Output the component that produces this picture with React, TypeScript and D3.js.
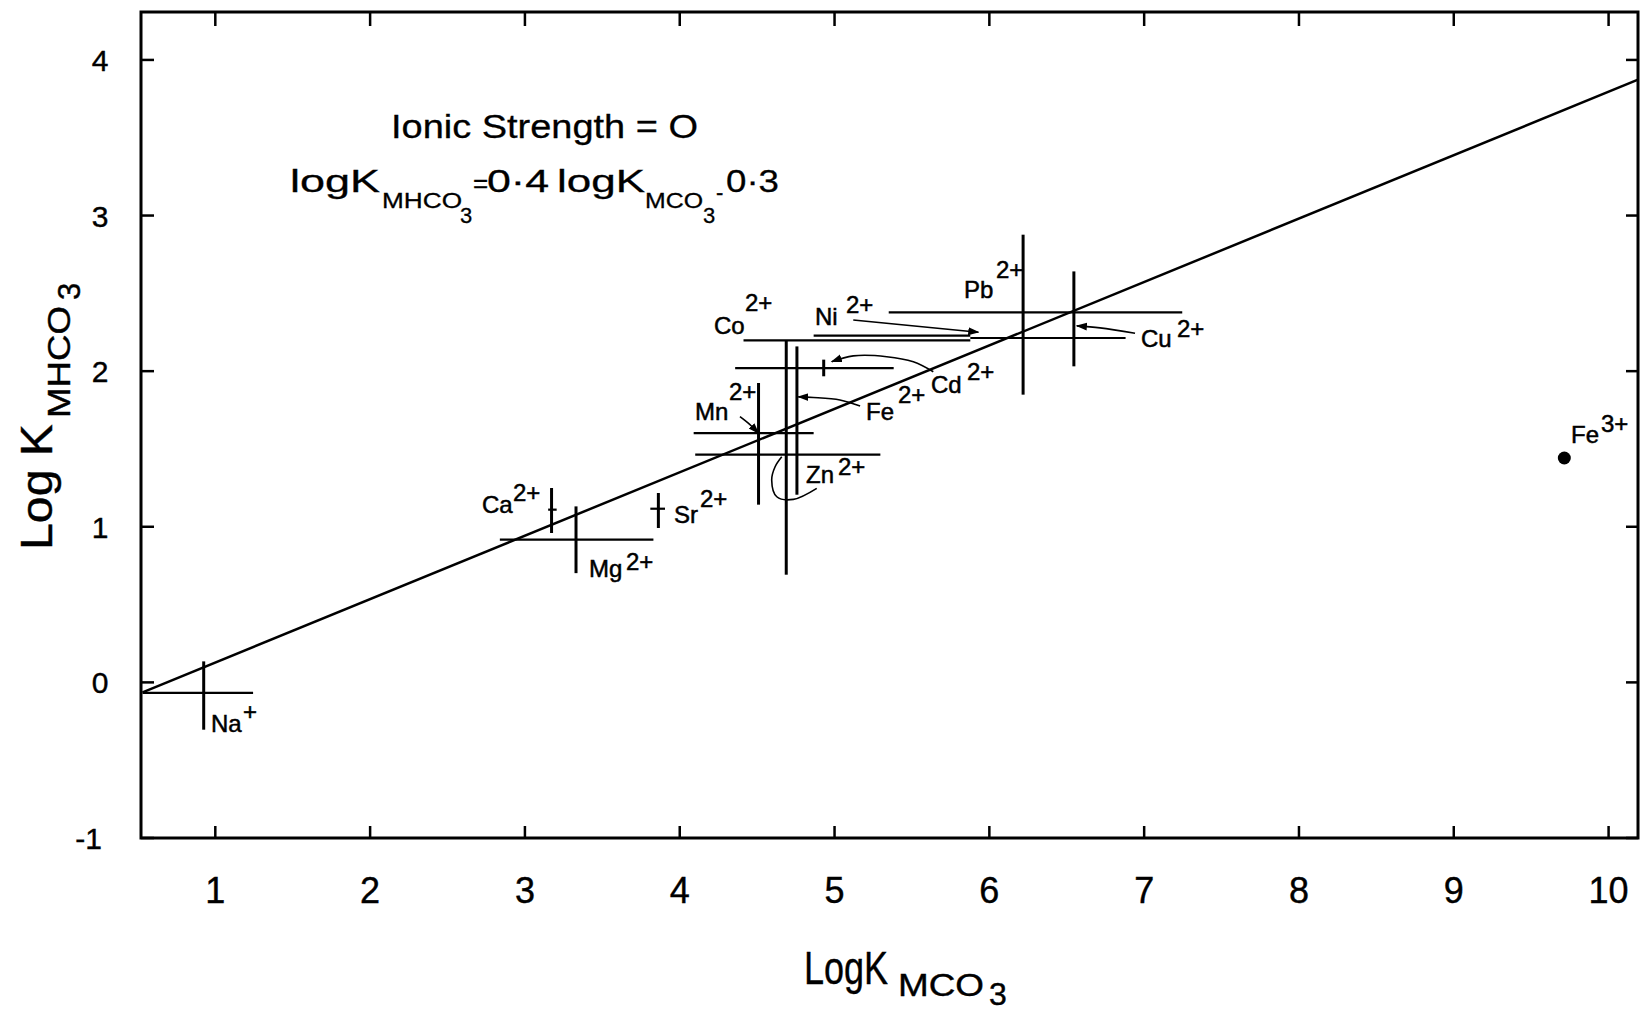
import React from "react";
import * as d3 from "d3";

// ---------- data ----------
const xTicks = [1, 2, 3, 4, 5, 6, 7, 8, 9, 10];
const xTickLabels = ["1", "2", "3", "4", "5", "6", "7", "8", "9", "10"];
const yTicks = [-1, 0, 1, 2, 3, 4];
const yTickLabels = ["-1", "0", "1", "2", "3", "4"];

// vertical range bars (log K_MHCO3 ranges) : x, yLow, yHigh
const vIons = ["Na+", "Ca2+", "Mg2+", "Sr2+", "Mn2+", "Zn2+", "Fe2+", "Cd2+", "Pb2+", "Cu2+"];
const vX = [0.925, 3.172, 3.33, 3.862, 4.509, 4.688, 4.757, 4.93, 6.218, 6.546];
const vLow = [-0.304, 0.96, 0.702, 0.992, 1.142, 0.692, 1.206, 1.967, 1.849, 2.031];
const vHigh = [0.135, 1.249, 1.131, 1.217, 1.924, 2.198, 2.159, 2.074, 2.877, 2.641];

// horizontal range bars (log K_MCO3 ranges) : y, xLow, xHigh
const hIons = ["Na+", "Ca2+", "Mg2+", "Sr2+", "Mn2+", "Zn2+", "Cd2+", "Co2+", "Ni2+", "Pb2+", "Cu2+"];
const hY = [-0.068, 1.11, 0.917, 1.116, 1.602, 1.463, 2.02, 2.198, 2.228, 2.378, 2.213];
const hLow = [0.53, 3.15, 2.838, 3.81, 4.09, 4.1, 4.358, 4.412, 4.865, 5.35, 5.877];
const hHigh = [1.244, 3.205, 3.83, 3.905, 4.865, 5.296, 5.382, 5.877, 5.877, 7.246, 6.88];

// single point
const pointIons = ["Fe3+"];
const pointX = [9.714];
const pointY = [1.442];

// fitted line end points
const fitX = [0.53, 10.19];
const fitY = [-0.064, 3.873];

// ion labels
const labelMain = ["Na", "Ca", "Mg", "Sr", "Mn", "Co", "Ni", "Pb", "Cu", "Fe", "Cd", "Zn", "Fe"];
const labelSup = ["+", "2+", "2+", "2+", "2+", "2+", "2+", "2+", "2+", "2+", "2+", "2+", "3+"];

// leader arrows (in data units)
const leaderMn: [number, number][] = [[4.389, 1.708], [4.45, 1.66], [4.508, 1.601]];
const leaderFe: [number, number][] = [[5.165, 1.776], [5.035, 1.815], [4.863, 1.831], [4.766, 1.835]];
const leaderCd: [number, number][] = [[5.638, 1.996], [5.509, 2.06], [5.337, 2.093], [5.121, 2.098], [4.982, 2.061]];
const leaderNi: [number, number][] = [[5.121, 2.329], [5.929, 2.25]];
const leaderCu: [number, number][] = [[6.941, 2.244], [6.715, 2.278], [6.565, 2.291]];
const leaderZn: [number, number][] = [[4.885, 1.247], [4.734, 1.176], [4.627, 1.193], [4.594, 1.301], [4.616, 1.386], [4.659, 1.45]];

// ---------- layout (pixels) ----------
const labelPos = [
  { mx: 211, my: 732, sx: 243, sy: 720 },
  { mx: 482, my: 513, sx: 513, sy: 501 },
  { mx: 589, my: 577, sx: 626, sy: 570 },
  { mx: 674, my: 523, sx: 700, sy: 507 },
  { mx: 695, my: 420, sx: 729, sy: 400 },
  { mx: 714, my: 334, sx: 745, sy: 311 },
  { mx: 815, my: 325, sx: 846, sy: 313 },
  { mx: 964, my: 298, sx: 996, sy: 278 },
  { mx: 1141, my: 347, sx: 1177, sy: 337 },
  { mx: 866, my: 420, sx: 898, sy: 403 },
  { mx: 931, my: 393, sx: 967, sy: 380 },
  { mx: 806, my: 483, sx: 838, sy: 475 },
  { mx: 1571, my: 443, sx: 1601, sy: 432 },
];

const FONT = "'Liberation Sans', Arial, sans-serif";
const NARROW = "'Liberation Sans Narrow', 'Liberation Sans', Arial, sans-serif";

export default function App() {
  const W = 1642;
  const H = 1011;
  const x = d3.scaleLinear().domain([0.52, 10.19]).range([141, 1638]);
  const y = d3.scaleLinear().domain([-1, 4.308]).range([838, 12]);
  const [x0, x1] = x.range();
  const [y0, y1] = y.range();

  const straight = d3
    .line<[number, number]>()
    .x((d) => x(d[0]))
    .y((d) => y(d[1]));
  const smooth = d3
    .line<[number, number]>()
    .x((d) => x(d[0]))
    .y((d) => y(d[1]))
    .curve(d3.curveCatmullRom);

  const fitPts: [number, number][] = fitX.map((v, i) => [v, fitY[i]]);

  return (
    <svg
      width={W}
      height={H}
      viewBox={`0 0 ${W} ${H}`}
      style={{ position: "absolute", left: 0, top: 0, background: "#fff" }}
    >
      <defs>
        <marker id="ah" viewBox="0 0 10 10" refX="9" refY="5" markerWidth="7" markerHeight="7" orient="auto">
          <path d="M0,1.5 L10,5 L0,8.5 z" fill="#000" />
        </marker>
      </defs>
      <rect x={0} y={0} width={W} height={H} fill="#fff" />

      {/* frame */}
      <rect x={x0} y={y1} width={x1 - x0} height={y0 - y1} fill="none" stroke="#000" strokeWidth={3} />

      {/* ticks */}
      {xTicks.map((t) => (
        <g key={"xt" + t}>
          <line x1={x(t)} x2={x(t)} y1={y0} y2={y0 - 12} stroke="#000" strokeWidth={2.5} />
          <line x1={x(t)} x2={x(t)} y1={y1} y2={y1 + 14} stroke="#000" strokeWidth={2.5} />
        </g>
      ))}
      {yTicks.map((t) => (
        <g key={"yt" + t}>
          <line x1={x0} x2={x0 + 13} y1={y(t)} y2={y(t)} stroke="#000" strokeWidth={2.5} />
          <line x1={x1} x2={x1 - 12} y1={y(t)} y2={y(t)} stroke="#000" strokeWidth={2.5} />
        </g>
      ))}

      {/* tick labels */}
      {xTicks.map((t, i) => (
        <text key={"xl" + t} x={x(t)} y={903} textAnchor="middle" fontFamily={NARROW} fontSize={36} fill="#000" stroke="#000" strokeWidth={0.4}>
          {xTickLabels[i]}
        </text>
      ))}
      {yTicks.map((t, i) => (
        <text key={"yl" + t} x={t < 0 ? 102 : 100} y={y(t) + 11} textAnchor={t < 0 ? "end" : "middle"} fontFamily={FONT} fontSize={30} fill="#000" stroke="#000" strokeWidth={0.4}>
          {yTickLabels[i]}
        </text>
      ))}

      {/* axis titles */}
      <g fill="#000" stroke="#000" strokeWidth={0.4}>
        <text x={804} y={984} fontFamily={NARROW} fontSize={46} textLength={84} lengthAdjust="spacingAndGlyphs">
          LogK
        </text>
        <text x={898} y={996} fontFamily={NARROW} fontSize={32} textLength={86} lengthAdjust="spacingAndGlyphs">
          MCO
        </text>
        <text x={989} y={1005} fontFamily={NARROW} fontSize={32}>
          3
        </text>

        <g transform="translate(52,550) rotate(-90)">
          <text x={0} y={0} fontFamily={FONT} fontSize={44} textLength={126} lengthAdjust="spacingAndGlyphs">
            Log K
          </text>
          <text x={132} y={18} fontFamily={FONT} fontSize={31} textLength={112} lengthAdjust="spacingAndGlyphs">
            MHCO
          </text>
          <text x={250} y={28} fontFamily={FONT} fontSize={31}>
            3
          </text>
        </g>
      </g>

      {/* annotation */}
      <g fontFamily={FONT} fill="#000" stroke="#000" strokeWidth={0.3}>
        <text x={391} y={138} fontSize={33} textLength={307} lengthAdjust="spacingAndGlyphs">
          Ionic  Strength = O
        </text>
        <text x={290} y={192} fontSize={32} textLength={90} lengthAdjust="spacingAndGlyphs">logK</text>
        <text x={382} y={208} fontSize={22} textLength={80} lengthAdjust="spacingAndGlyphs">MHCO</text>
        <text x={460} y={223} fontSize={22}>3</text>
        <text x={473} y={192} fontSize={26}>=</text>
        <text x={487} y={192} fontSize={32} textLength={62} lengthAdjust="spacingAndGlyphs">0·4</text>
        <text x={557} y={192} fontSize={32} textLength={88} lengthAdjust="spacingAndGlyphs">logK</text>
        <text x={645} y={208} fontSize={22} textLength={58} lengthAdjust="spacingAndGlyphs">MCO</text>
        <text x={703} y={223} fontSize={22}>3</text>
        <text x={716} y={200} fontSize={22}>-</text>
        <text x={726} y={192} fontSize={32} textLength={53} lengthAdjust="spacingAndGlyphs">0·3</text>
      </g>

      {/* fitted line */}
      <path d={straight(fitPts) || ""} fill="none" stroke="#000" strokeWidth={2.5} />

      {/* horizontal range bars */}
      {hIons.map((ion, i) => (
        <line key={"h" + ion} x1={x(hLow[i])} x2={x(hHigh[i])} y1={y(hY[i])} y2={y(hY[i])} stroke="#000" strokeWidth={2.2} />
      ))}
      {/* vertical range bars */}
      {vIons.map((ion, i) => (
        <line key={"v" + ion} x1={x(vX[i])} x2={x(vX[i])} y1={y(vLow[i])} y2={y(vHigh[i])} stroke="#000" strokeWidth={3} />
      ))}

      {/* point */}
      {pointIons.map((ion, i) => (
        <circle key={ion} cx={x(pointX[i])} cy={y(pointY[i])} r={6.5} fill="#000" />
      ))}

      {/* leaders */}
      <path d={smooth(leaderMn) || ""} fill="none" stroke="#000" strokeWidth={1.6} markerEnd="url(#ah)" />
      <path d={smooth(leaderFe) || ""} fill="none" stroke="#000" strokeWidth={1.6} markerEnd="url(#ah)" />
      <path d={smooth(leaderCd) || ""} fill="none" stroke="#000" strokeWidth={1.6} markerEnd="url(#ah)" />
      <path d={straight(leaderNi) || ""} fill="none" stroke="#000" strokeWidth={1.6} markerEnd="url(#ah)" />
      <path d={smooth(leaderCu) || ""} fill="none" stroke="#000" strokeWidth={1.6} markerEnd="url(#ah)" />
      <path d={smooth(leaderZn) || ""} fill="none" stroke="#000" strokeWidth={1.6} />

      {/* ion labels */}
      {labelMain.map((m, i) => (
        <g key={"lab" + i} fontFamily={FONT} fontSize={24} fill="#000" stroke="#000" strokeWidth={0.5}>
          <text x={labelPos[i].mx} y={labelPos[i].my}>{m}</text>
          <text x={labelPos[i].sx} y={labelPos[i].sy}>{labelSup[i]}</text>
        </g>
      ))}
    </svg>
  );
}
